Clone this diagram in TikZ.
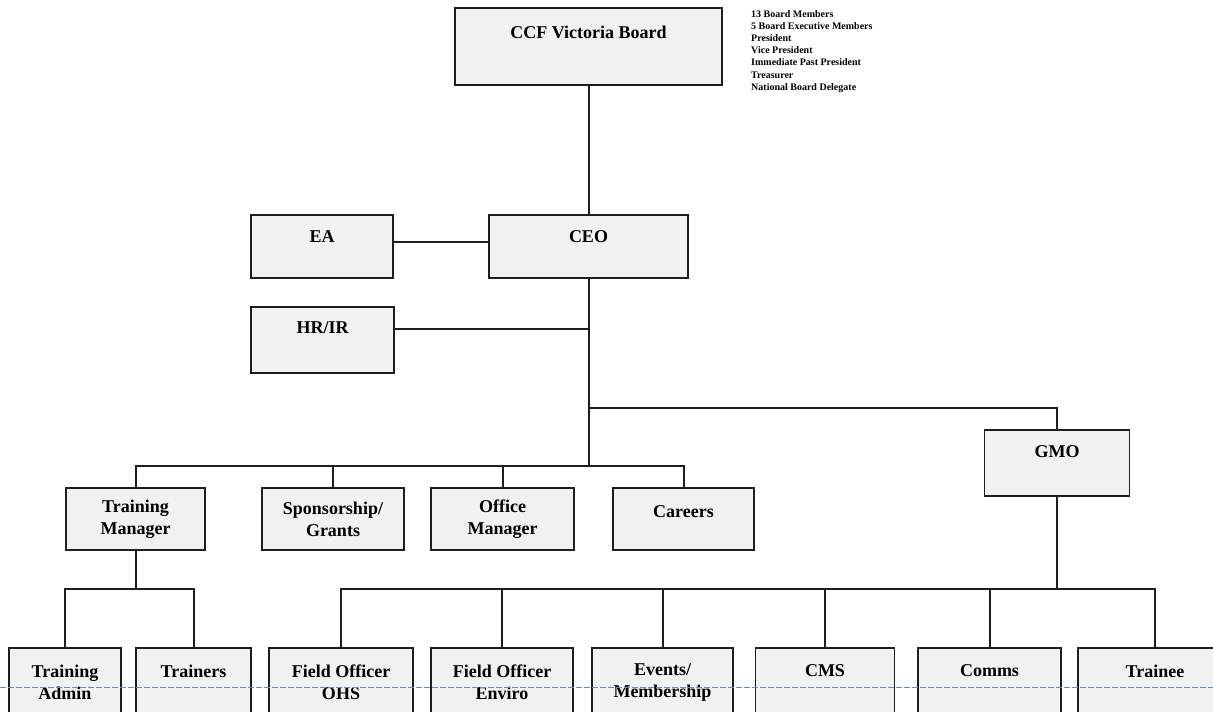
\documentclass[tikz,border=0pt]{standalone}
\usepackage{fontspec}
\setmainfont{Liberation Serif}
\usepackage{tikz}
\definecolor{chartink}{HTML}{1E1E1E}
\definecolor{boxgrey}{HTML}{F1F1F1}
\definecolor{scanblue}{HTML}{6F86C0}
\tikzset{
  orgbox/.style={draw=chartink, fill=boxgrey, line width=1.5pt, align=center, font=\fontsize{18}{22}\selectfont\bfseries, inner sep=3pt},
  toprow/.style={orgbox, minimum height=62pt},
  lowrow/.style={orgbox, minimum height=69pt},
  link/.style={draw=chartink, line width=2pt, line cap=rect},
  notetext/.style={align=left, font=\fontsize{10}{12.2}\selectfont\bfseries, inner sep=0pt, anchor=north west}
}
\begin{document}
\begin{tikzpicture}[x=1pt, y=-1pt]
  \useasboundingbox (0,0) rectangle (1213,712);
  \clip (0,0) rectangle (1213,712);
  \fill[white] (0,0) rectangle (1213,712);
  \node[orgbox, minimum width=267pt, minimum height=77pt, text depth=29pt] (board) at (588.5,46.5) {CCF Victoria Board};
  \node[notetext] (notes) at (751,10) {13 Board Members\\5 Board Executive Members\\President\\Vice President\\Immediate Past President\\Treasurer\\National Board Delegate};
  \node[orgbox, minimum width=199pt, minimum height=63pt, text depth=19pt] (ceo) at (588.5,246.5) {CEO};
  \node[orgbox, minimum width=142pt, minimum height=63pt, text depth=19pt] (ea) at (322,246.5) {EA};
  \node[orgbox, minimum width=143pt, minimum height=66pt, text depth=24pt] (hrir) at (322.5,340) {HR/IR};
  \node[orgbox, minimum width=145pt, minimum height=66pt, text depth=22pt] (gmo) at (1057,463) {GMO};
  \node[toprow, minimum width=139pt] (tm) at (135.5,519) {Training\\Manager};
  \node[toprow, minimum width=142pt] (spons) at (333,519) {Sponsorship/\\Grants};
  \node[toprow, minimum width=143pt] (office) at (502.5,519) {Office\\Manager};
  \node[toprow, minimum width=141pt, text depth=14pt] (careers) at (683.5,519) {Careers};
  \node[lowrow, minimum width=112pt] (tadmin) at (65,682.5) {Training\\Admin};
  \node[lowrow, minimum width=115pt, text depth=23pt] (trainers) at (193.5,682.5) {Trainers};
  \node[lowrow, minimum width=144pt] (fohs) at (341,682.5) {Field Officer\\OHS};
  \node[lowrow, minimum width=142pt] (fenv) at (502,682.5) {Field Officer\\Enviro};
  \node[lowrow, minimum width=141pt] (events) at (662.5,682.5) {Events/\\Membership};
  \node[lowrow, minimum width=139pt, text depth=23pt] (cms) at (825,682.5) {CMS};
  \node[lowrow, minimum width=143pt, text depth=23pt] (comms) at (989.5,682.5) {Comms};
  \node[lowrow, minimum width=154pt, text depth=23pt] (trainee) at (1155,682.5) {Trainee};
  \coordinate (gmoturn) at (588.5,408);
  \coordinate (midbus) at (588.5,466);
  \coordinate (lowbus) at (0,589);
  \draw[link] (board) -- (ceo);
  \draw[link] ([yshift=4.5pt]ea.east) -- ([yshift=4.5pt]ea.east -| ceo.west);
  \draw[link] ([yshift=11pt]hrir.east) -- ([yshift=11pt]hrir.east -| ceo.south);
  \draw[link] (ceo.south) -- (midbus);
  \draw[link] (gmoturn) -| (gmo.north);
  \draw[link] (tm.north |- midbus) -- (careers.north |- midbus);
  \foreach \n in {tm,spons,office,careers}
    \draw[link] (\n.north |- midbus) -- (\n.north);
  \draw[link] (tm.south) -- (tm.south |- lowbus);
  \draw[link] (tadmin.north |- lowbus) -- (trainers.north |- lowbus);
  \foreach \n in {tadmin,trainers}
    \draw[link] (\n.north |- lowbus) -- (\n.north);
  \draw[link] (gmo.south) -- (gmo.south |- lowbus);
  \draw[link] (fohs.north |- lowbus) -- (trainee.north |- lowbus);
  \foreach \n in {fohs,fenv,events,cms,comms,trainee}
    \draw[link] (\n.north |- lowbus) -- (\n.north);
  \draw[scanblue, line width=0.9pt, dash pattern=on 6pt off 2pt] (0,687) -- (1213,687);
\end{tikzpicture}
\end{document}
